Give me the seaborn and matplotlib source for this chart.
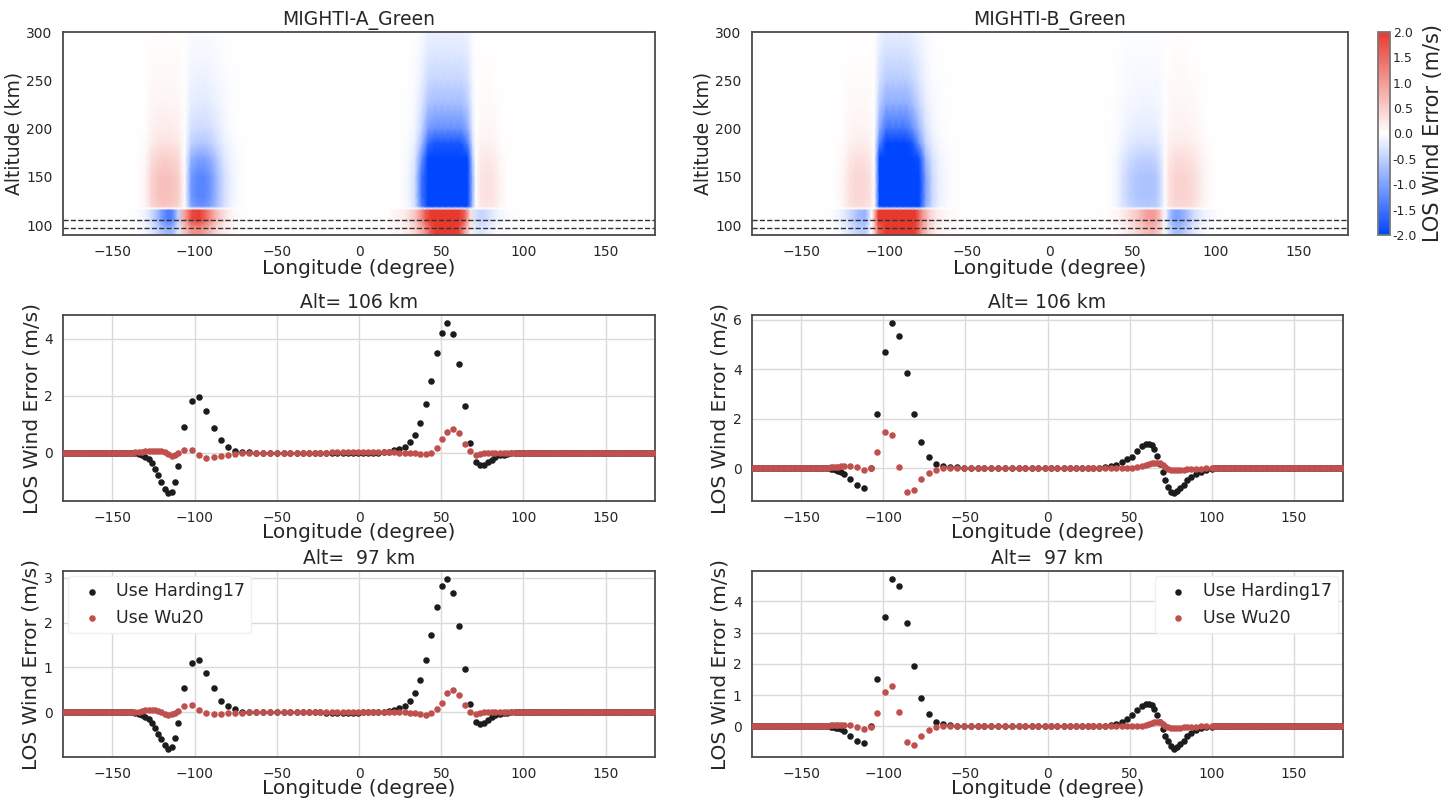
import numpy as np
import matplotlib
matplotlib.use("Agg")
import matplotlib.pyplot as plt
from matplotlib.colors import LinearSegmentedColormap
import seaborn as sns

# ---------------------------------------------------------------
# Longitude tracks (degree)
# ---------------------------------------------------------------
A_LON_WEST = [-180.0, -178.5, -177.0, -175.5, -174.0, -172.5, -171.0, -169.5, -168.0, -166.5,
              -165.0, -163.5, -162.0, -160.5, -159.0, -157.5, -156.0, -154.5, -153.0, -151.5,
              -150.0, -148.5, -147.0, -145.5, -144.0, -142.5, -141.0, -139.5]
A_LON_CORE = [-138, -136, -134, -132, -130, -128, -126, -124, -122, -120.3,
              -118, -116.4, -114, -112.1, -110, -106.3, -101.6, -97.2, -92.8, -88.3,
              -84.1, -79.9, -75.7, -71.3, -66.8, -62.5, -58.2, -54.1, -50, -45.9,
              -41.8, -37.8, -34.3, -30.6, -26.9, -23.5, -20, -16.7, -13.3, -9.8,
              -6.5, -3.5, -0.4, 2.7, 5.7, 8.8, 11.8, 14.9, 18, 21.4,
              24.5, 27.8, 31, 34.3, 37.3, 40.8, 43.9, 47.2, 50.3, 53.7,
              57.2, 60.7, 64.3, 67.8, 71.3, 73.6, 75.9, 78.3, 80.6, 82.9,
              85.7, 88, 90.3, 92.6, 94.9]
A_LON_EAST = [96.5, 98.0, 99.5, 101.0, 102.5, 104.0, 105.5, 107.0, 108.5, 110.0,
              111.5, 113.0, 114.5, 116.0, 117.5, 119.0, 120.5, 122.0, 123.5, 125.0,
              126.5, 128.0, 129.5, 131.0, 132.5, 134.0, 135.5, 137.0, 138.5, 140.0,
              141.5, 143.0, 144.5, 146.0, 147.5, 149.0, 150.5, 152.0, 153.5, 155.0,
              156.5, 158.0, 159.5, 161.0, 162.5, 164.0, 165.5, 167.0, 168.5, 170.0,
              171.5, 173.0, 174.5, 176.0, 177.5, 179.0]
A_WEST_VAL = [0, 0, 0, 0, 0, 0, 0, 0, 0, 0,
              0, 0, 0, 0, 0, 0, 0, 0, 0, 0,
              0, 0, 0, 0, 0, 0, 0, 0]
A_EAST_VAL = [0, 0, 0, 0, 0, 0, 0, 0, 0, 0,
              0, 0, 0, 0, 0, 0, 0, 0, 0, 0,
              0, 0, 0, 0, 0, 0, 0, 0, 0, 0,
              0, 0, 0, 0, 0, 0, 0, 0, 0, 0,
              0, 0, 0, 0, 0, 0, 0, 0, 0, 0,
              0, 0, 0, 0, 0, 0]

B_LON_WEST = [-180.0, -178.5, -177.0, -175.5, -174.0, -172.5, -171.0, -169.5, -168.0, -166.5,
              -165.0, -163.5, -162.0, -160.5, -159.0, -157.5, -156.0, -154.5, -153.0, -151.5,
              -150.0, -148.5, -147.0, -145.5, -144.0, -142.5, -141.0, -139.5, -138.0, -136.5,
              -135.0, -133.5]
B_LON_CORE = [-132, -130.5, -129, -127.5, -126, -124, -120.4, -116, -111.6, -107.6,
              -103.6, -99, -95, -90.4, -85.8, -81.4, -76.8, -72.4, -68, -63.6,
              -59.4, -55.2, -51, -46.8, -42.6, -38.4, -34.2, -30, -25.8, -21.6,
              -17.6, -13.6, -9.6, -5.6, -1.6, 2.2, 6, 9.8, 13.5, 17.2,
              20.8, 24.4, 28, 31.5, 35, 38.4, 41.8, 45.2, 48.2, 51.4,
              54.8, 57.8, 60, 61.9, 63.5, 65.1, 66.9, 68.5, 70.1, 71.5,
              73.3, 75.1, 77.2, 79, 81, 82.9, 85.2, 87.4, 90.2, 93.2,
              96.6, 100]
B_LON_EAST = [101.5, 103.0, 104.5, 106.0, 107.5, 109.0, 110.5, 112.0, 113.5, 115.0,
              116.5, 118.0, 119.5, 121.0, 122.5, 124.0, 125.5, 127.0, 128.5, 130.0,
              131.5, 133.0, 134.5, 136.0, 137.5, 139.0, 140.5, 142.0, 143.5, 145.0,
              146.5, 148.0, 149.5, 151.0, 152.5, 154.0, 155.5, 157.0, 158.5, 160.0,
              161.5, 163.0, 164.5, 166.0, 167.5, 169.0, 170.5, 172.0, 173.5, 175.0,
              176.5, 178.0, 179.5]
B_WEST_VAL = [0, 0, 0, 0, 0, 0, 0, 0, 0, 0,
              0, 0, 0, 0, 0, 0, 0, 0, 0, 0,
              0, 0, 0, 0, 0, 0, 0, 0, 0, 0,
              0, 0]
B_EAST_VAL = [0, 0, 0, 0, 0, 0, 0, 0, 0, 0,
              0, 0, 0, 0, 0, 0, 0, 0, 0, 0,
              0, 0, 0, 0, 0, 0, 0, 0, 0, 0,
              0, 0, 0, 0, 0, 0, 0, 0, 0, 0,
              0, 0, 0, 0, 0, 0, 0, 0, 0, 0,
              0, 0, 0]

# ---------------------------------------------------------------
# LOS wind error (m/s) on the core part of each track
# ---------------------------------------------------------------
A106_H17 = [-0.01, -0.02, -0.04, -0.08, -0.14, -0.24, -0.38, -0.56, -0.77, -1.03,
            -1.26, -1.40, -1.37, -1.03, -0.47, 0.89, 1.82, 1.94, 1.47, 0.86,
            0.46, 0.20, 0.07, 0.02, 0.01, 0.00, 0.00, 0.00, 0.00, 0.00,
            0.00, 0.00, 0.00, 0.00, 0.00, 0.00, -0.01, -0.01, -0.01, -0.01,
            -0.01, -0.01, -0.01, -0.01, -0.01, 0.00, 0.00, 0.01, 0.03, 0.08,
            0.13, 0.19, 0.36, 0.61, 1.04, 1.71, 2.52, 3.50, 4.21, 4.53,
            4.15, 3.12, 1.62, 0.33, -0.33, -0.44, -0.42, -0.34, -0.25, -0.17,
            -0.10, -0.07, -0.04, -0.02, -0.01]
A106_WU20 = [0.00, 0.01, 0.02, 0.03, 0.05, 0.06, 0.07, 0.07, 0.07, 0.05,
             0.02, -0.06, -0.11, -0.09, -0.03, 0.09, 0.08, -0.10, -0.18, -0.15,
             -0.12, -0.08, -0.05, -0.03, -0.02, -0.02, -0.01, -0.01, 0.00, 0.00,
             0.00, 0.00, 0.00, 0.00, 0.00, 0.00, 0.00, 0.01, 0.01, 0.01,
             0.02, 0.02, 0.02, 0.02, 0.02, 0.02, 0.02, 0.02, 0.02, 0.01,
             0.00, -0.01, -0.02, -0.03, -0.04, -0.04, 0.00, 0.17, 0.47, 0.73,
             0.83, 0.68, 0.32, 0.05, -0.07, -0.05, -0.03, -0.01, 0.00, 0.00,
             0.00, 0.00, 0.00, 0.00, 0.00]
A97_H17 = [0.00, -0.01, -0.03, -0.06, -0.10, -0.16, -0.25, -0.35, -0.48, -0.60,
           -0.73, -0.81, -0.78, -0.58, -0.24, 0.55, 1.09, 1.16, 0.88, 0.53,
           0.26, 0.13, 0.07, 0.01, 0.00, 0.00, 0.00, 0.00, 0.00, 0.00,
           0.00, 0.00, 0.00, 0.00, 0.00, 0.00, -0.01, -0.01, -0.01, -0.01,
           -0.01, -0.01, -0.01, 0.00, 0.00, 0.00, 0.00, 0.01, 0.02, 0.05,
           0.09, 0.13, 0.24, 0.42, 0.72, 1.16, 1.73, 2.35, 2.81, 2.96,
           2.66, 1.92, 0.97, 0.19, -0.21, -0.27, -0.24, -0.17, -0.11, -0.07,
           -0.04, -0.02, -0.01, 0.00, 0.00]
A97_WU20 = [0.00, 0.00, 0.01, 0.02, 0.04, 0.05, 0.05, 0.04, 0.03, 0.00,
            -0.04, -0.06, -0.05, -0.02, 0.03, 0.13, 0.16, 0.05, -0.02, -0.04,
            -0.03, -0.02, -0.01, -0.01, 0.00, 0.00, 0.00, 0.00, 0.00, 0.00,
            0.00, 0.00, 0.00, 0.00, 0.00, 0.00, 0.01, 0.01, 0.01, 0.01,
            0.01, 0.01, 0.01, 0.01, 0.01, 0.01, 0.01, 0.01, 0.01, 0.01,
            0.01, 0.00, -0.01, -0.01, -0.04, -0.06, -0.02, 0.07, 0.20, 0.42,
            0.49, 0.38, 0.16, 0.00, -0.04, -0.02, 0.01, 0.00, 0.00, 0.00,
            0.00, 0.00, 0.00, 0.00, 0.00]

B106_H17 = [-0.03, -0.05, -0.07, -0.10, -0.15, -0.23, -0.43, -0.70, -0.80, 0.00,
            2.19, 4.72, 5.86, 5.34, 3.84, 2.19, 1.04, 0.43, 0.16, 0.09,
            0.05, 0.03, 0.02, 0.01, 0.00, 0.00, 0.00, 0.00, 0.00, 0.00,
            0.00, 0.00, 0.00, 0.00, 0.00, 0.00, 0.00, 0.00, 0.00, 0.00,
            0.00, 0.00, 0.01, 0.02, 0.03, 0.07, 0.12, 0.23, 0.36, 0.47,
            0.68, 0.91, 0.97, 0.99, 0.92, 0.77, 0.50, 0.18, -0.14, -0.47,
            -0.77, -0.95, -0.99, -0.92, -0.81, -0.68, -0.50, -0.34, -0.23, -0.14,
            -0.07, -0.04]
B106_WU20 = [0.03, 0.04, 0.05, 0.06, 0.07, 0.08, 0.08, 0.03, -0.08, 0.00,
             0.65, 1.46, 1.34, 0.05, -0.96, -0.89, -0.43, -0.18, -0.07, 0.00,
             0.00, 0.00, 0.00, 0.00, 0.00, 0.00, 0.00, 0.00, 0.00, 0.00,
             0.00, 0.00, 0.00, 0.00, 0.00, 0.00, 0.00, 0.00, 0.00, 0.00,
             0.00, 0.00, 0.00, 0.00, 0.00, 0.00, 0.00, 0.00, 0.00, 0.02,
             0.04, 0.07, 0.12, 0.16, 0.19, 0.20, 0.22, 0.20, 0.12, 0.04,
             -0.03, -0.07, -0.09, -0.09, -0.08, -0.06, -0.04, -0.03, -0.03, -0.02,
             -0.01, 0.00]
B97_H17 = [-0.02, -0.03, -0.04, -0.06, -0.09, -0.16, -0.30, -0.48, -0.54, 0.00,
           1.51, 3.49, 4.70, 4.49, 3.32, 1.94, 0.90, 0.39, 0.14, 0.07,
           0.04, 0.02, 0.01, 0.00, 0.00, 0.00, 0.00, 0.00, 0.00, 0.00,
           0.00, 0.00, 0.00, 0.00, 0.00, 0.00, 0.00, 0.00, 0.00, 0.00,
           0.00, 0.00, 0.00, 0.01, 0.01, 0.03, 0.09, 0.13, 0.23, 0.35,
           0.51, 0.66, 0.72, 0.72, 0.67, 0.56, 0.37, 0.14, -0.09, -0.30,
           -0.48, -0.64, -0.71, -0.67, -0.56, -0.46, -0.32, -0.21, -0.13, -0.06,
           -0.02, -0.01]
B97_WU20 = [0.03, 0.04, 0.04, 0.05, 0.05, 0.05, 0.03, -0.02, -0.09, -0.03,
            0.43, 1.10, 1.30, 0.47, -0.50, -0.60, -0.32, -0.13, -0.03, 0.02,
            0.00, 0.00, 0.00, 0.00, 0.00, 0.00, 0.00, 0.00, 0.00, 0.00,
            0.00, 0.00, 0.00, 0.00, 0.00, 0.00, 0.00, 0.00, 0.00, 0.00,
            0.00, 0.00, 0.00, 0.00, 0.00, 0.00, 0.00, 0.00, 0.00, 0.00,
            0.00, 0.02, 0.04, 0.07, 0.10, 0.13, 0.15, 0.13, 0.08, 0.02,
            -0.02, -0.04, -0.05, -0.05, -0.04, -0.03, -0.02, -0.02, -0.01, 0.00,
            0.00, 0.00]

# ---------------------------------------------------------------
# Upper band (> ~117 km) of the altitude-longitude maps
# ---------------------------------------------------------------
A_UP_LON = [-180, -135, -130, -126, -122, -118, -114, -110, -106, -102,
            -98, -94, -90, -86, -82, -78, -74, -70, 25, 30,
            34, 38, 42, 46, 50, 54, 58, 62, 66, 69,
            71, 74, 78, 82, 86, 90, 95, 180]
A_UP_VAL = [0, 0, 0.1, 0.45, 0.6, 0.65, 0.6, 0.5, 0.0, -1.1,
            -1.3, -1.3, -1.1, -0.7, -0.35, -0.15, -0.05, 0, 0, -0.1,
            -0.35, -1.5, -3.5, -4, -4, -4, -4, -4, -3, -0.8,
            0.0, 0.25, 0.3, 0.25, 0.1, 0.03, 0, 0]
B_UP_LON = [-180, -130, -125, -121, -117, -113, -109, -106, -103, -99,
            -95, -91, -87, -83, -79, -75, -71, -67, -62, -58,
            35, 40, 44, 48, 52, 56, 60, 64, 67, 69.5,
            72, 76, 80, 84, 88, 92, 96, 100, 180]
B_UP_VAL = [0, 0, 0.1, 0.3, 0.4, 0.4, 0.3, 0.0, -3, -5,
            -5, -5, -5, -4, -2.5, -1, -0.4, -0.15, -0.05, 0,
            0, -0.1, -0.3, -0.5, -0.6, -0.65, -0.65, -0.6, -0.35, 0.0,
            0.3, 0.45, 0.45, 0.4, 0.3, 0.15, 0.05, 0, 0]
UP_ALT = [117, 120, 130, 150, 170, 185, 200, 225, 250, 275, 300]
UP_WEIGHT = [0.0, 0.9, 1.0, 1.0, 0.75, 0.45, 0.3, 0.18, 0.11, 0.07, 0.04]
LOW_ALT = [90, 97, 106, 117]

CB_TICKS = [-2.0, -1.5, -1.0, -0.5, 0.0, 0.5, 1.0, 1.5, 2.0]

BLACK = "#1c1c1c"
RED = "#c0504d"
cmap = LinearSegmentedColormap.from_list("los", ["#0046ff", "#ffffff", "#e8392f"])

sns.set_theme(style="whitegrid")
plt.rcParams.update({
    "font.family": ["DejaVu Sans"],
    "axes.edgecolor": "#4a4a4a",
    "axes.linewidth": 1.3,
    "grid.color": "#dadada",
    "grid.linewidth": 1.0,
    "xtick.labelsize": 10,
    "ytick.labelsize": 10,
    "axes.labelsize": 14.5,
    "axes.titlesize": 13.5,
})


def full(west, core, east):
    return list(west) + list(core) + list(east)


def heat_panel(ax, lon, low97, low106, up_lon, up_val, title):
    low = np.vstack([low97, low97, low106, low106])
    ax.pcolormesh(lon, LOW_ALT, low, cmap=cmap, vmin=-2, vmax=2, shading="gouraud")
    up = np.outer(UP_WEIGHT, up_val)
    mesh = ax.pcolormesh(up_lon, UP_ALT, up, cmap=cmap, vmin=-2, vmax=2, shading="gouraud")
    for alt in (106, 97):
        ax.axhline(alt, color="#333333", ls="--", lw=1.0)
    ax.set_xlim(-180, 180)
    ax.set_ylim(90, 300)
    ax.grid(False)
    ax.set_title(title, pad=5)
    ax.set_xlabel("Longitude (degree)", labelpad=0)
    ax.set_ylabel("Altitude (km)", labelpad=2, fontsize=13.5)
    ax.tick_params(pad=1.5)
    return mesh


def line_panel(ax, lon, h17, wu20, title, legend_loc=None):
    sns.scatterplot(x=lon, y=h17, color=BLACK, s=22, linewidth=0, ax=ax,
                    label="Use Harding17", zorder=2)
    sns.scatterplot(x=lon, y=wu20, color=RED, s=22, linewidth=0, ax=ax,
                    label="Use Wu20", zorder=3)
    ax.set_xlim(-180, 180)
    ax.set_title(title, pad=5)
    ax.set_xlabel("Longitude (degree)", labelpad=-2)
    ax.set_ylabel("LOS Wind Error (m/s)", labelpad=2)
    ax.tick_params(pad=1.5)
    if legend_loc:
        ax.legend(loc=legend_loc, fontsize=12.5, frameon=True, facecolor="white",
                  edgecolor="#f0f0f0", framealpha=1, handletextpad=0.4,
                  borderpad=0.35, borderaxespad=0.3)
    else:
        ax.get_legend().remove()


a_lon = full(A_LON_WEST, A_LON_CORE, A_LON_EAST)
b_lon = full(B_LON_WEST, B_LON_CORE, B_LON_EAST)
a106_h = full(A_WEST_VAL, A106_H17, A_EAST_VAL)
a106_w = full(A_WEST_VAL, A106_WU20, A_EAST_VAL)
a97_h = full(A_WEST_VAL, A97_H17, A_EAST_VAL)
a97_w = full(A_WEST_VAL, A97_WU20, A_EAST_VAL)
b106_h = full(B_WEST_VAL, B106_H17, B_EAST_VAL)
b106_w = full(B_WEST_VAL, B106_WU20, B_EAST_VAL)
b97_h = full(B_WEST_VAL, B97_H17, B_EAST_VAL)
b97_w = full(B_WEST_VAL, B97_WU20, B_EAST_VAL)

fig = plt.figure(figsize=(14.55, 7.98), dpi=100)
W, H = 1455.0, 798.0


def box(x0, y0, x1, y1):
    return [x0 / W, 1 - y1 / H, (x1 - x0) / W, (y1 - y0) / H]


ax_ha = fig.add_axes(box(63, 32, 655, 235))
ax_hb = fig.add_axes(box(752, 32, 1348, 235))
ax_cb = fig.add_axes(box(1378, 32, 1390, 235))
ax_a106 = fig.add_axes(box(63, 315, 655, 501))
ax_b106 = fig.add_axes(box(752, 315, 1343, 501))
ax_a97 = fig.add_axes(box(63, 571, 655, 757))
ax_b97 = fig.add_axes(box(752, 571, 1343, 757))

heat_panel(ax_ha, a_lon, a97_h, a106_h, A_UP_LON, A_UP_VAL, "MIGHTI-A_Green")
mesh = heat_panel(ax_hb, b_lon, b97_h, b106_h, B_UP_LON, B_UP_VAL, "MIGHTI-B_Green")

cb = fig.colorbar(mesh, cax=ax_cb, ticks=CB_TICKS, format="%.1f")
cb.outline.set_edgecolor("#777777")
cb.ax.tick_params(labelsize=9, pad=2, length=0)
cb.set_label("LOS Wind Error (m/s)", fontsize=15, labelpad=4)

line_panel(ax_a106, a_lon, a106_h, a106_w, "Alt= 106 km")
line_panel(ax_b106, b_lon, b106_h, b106_w, "Alt= 106 km")
line_panel(ax_a97, a_lon, a97_h, a97_w, "Alt=  97 km", legend_loc="upper left")
line_panel(ax_b97, b_lon, b97_h, b97_w, "Alt=  97 km", legend_loc="upper right")

fig.savefig("out.png", dpi=100)
